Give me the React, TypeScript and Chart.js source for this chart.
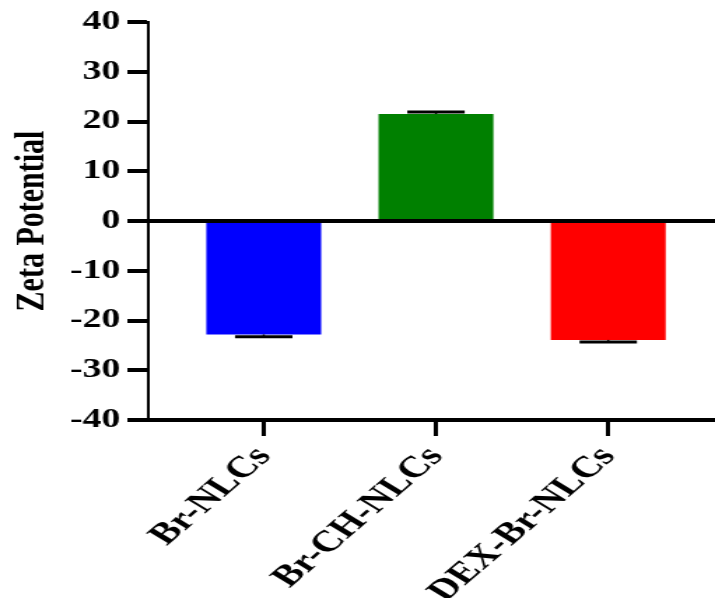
import React, { useEffect, useRef } from "react";
import { Chart, registerables } from "chart.js";

Chart.register(...registerables);

const categories = ["Br-NLCs", "Br-CH-NLCs", "DEX-Br-NLCs"];
const zetaMeans = [-22.8, 21.5, -23.9];
const zetaErrors = [0.45, 0.4, 0.4];
const barColors = ["#0000FF", "#008000", "#FF0000"];
const yTickValues = [-40, -30, -20, -10, 0, 10, 20, 30, 40];
const yTitle = "Zeta Potential";

const FONT = "'Liberation Serif', 'Times New Roman', serif";
const RENDER_W = 511; // drawn width; stretched to 715 on screen
const VIEW_W = 715;
const VIEW_H = 598;

const errorBarPlugin = {
  id: "errorBars",
  afterDatasetsDraw(chart: any) {
    const meta = chart.getDatasetMeta(0);
    const yScale = chart.scales.y;
    const ctx = chart.ctx;
    ctx.save();
    ctx.strokeStyle = "#000";
    meta.data.forEach((bar: any, i: number) => {
      const m = zetaMeans[i];
      const e = zetaErrors[i];
      const end = m >= 0 ? m + e : m - e;
      const y0 = yScale.getPixelForValue(m);
      const y1 = yScale.getPixelForValue(end);
      const half = bar.width / 4;
      ctx.lineWidth = 1.5;
      ctx.beginPath();
      ctx.moveTo(bar.x, y0);
      ctx.lineTo(bar.x, y1);
      ctx.stroke();
      ctx.lineWidth = 3;
      ctx.beginPath();
      ctx.moveTo(bar.x - half, y1);
      ctx.lineTo(bar.x + half, y1);
      ctx.stroke();
    });
    ctx.restore();
  },
};

export default function App() {
  const ref = useRef<HTMLCanvasElement>(null);

  useEffect(() => {
    if (!ref.current) return;
    const chart = new Chart(ref.current, {
      type: "bar",
      data: {
        datasets: [
          {
            data: categories.map((_, i) => ({ x: i, y: zetaMeans[i] })),
            backgroundColor: barColors,
            borderWidth: 0,
            categoryPercentage: 1,
            barPercentage: 0.667,
          },
        ],
      },
      options: {
        responsive: false,
        animation: false,
        devicePixelRatio: 1,
        layout: { padding: { top: 22, right: 0, bottom: 0, left: 0 } },
        plugins: { legend: { display: false }, tooltip: { enabled: false } },
        scales: {
          x: {
            type: "linear",
            offset: false,
            min: -0.67,
            max: 2.62,
            afterBuildTicks: (s: any) => {
              s.ticks = categories.map((_, i) => ({ value: i }));
            },
            afterFit: (s: any) => {
              s.height = 178;
            },
            ticks: {
              autoSkip: false,
              minRotation: 50,
              maxRotation: 50,
              color: "#000",
              padding: 4,
              font: { family: FONT, size: 30, weight: "bold" },
              callback: (_v: any, i: number) => categories[i],
            },
            grid: {
              offset: false,
              drawOnChartArea: false,
              drawTicks: true,
              tickLength: 16,
              tickWidth: 3,
              tickColor: "#000",
            },
            border: { display: true, color: "#000", width: 4 },
          },
          y: {
            min: -40,
            max: 40,
            z: 1,
            afterBuildTicks: (s: any) => {
              s.ticks = yTickValues.map((v) => ({ value: v }));
            },
            afterFit: (s: any) => {
              s.width = 106;
            },
            ticks: {
              color: "#000",
              padding: 5,
              font: { family: FONT, size: 27, weight: "bold" },
            },
            grid: {
              drawOnChartArea: true,
              color: (c: any) => (c.tick && c.tick.value === 0 ? "#000" : "rgba(0,0,0,0)"),
              lineWidth: (c: any) => (c.tick && c.tick.value === 0 ? 4 : 0),
              tickColor: "#000",
              tickWidth: 4,
              tickLength: 15,
            },
            border: { display: true, color: "#000", width: 2 },
            title: {
              display: true,
              text: yTitle,
              color: "#000",
              padding: { top: 5, bottom: 0 },
              font: { family: FONT, size: 30, weight: "bold" },
            },
          },
        },
      },
      plugins: [errorBarPlugin],
    } as any);
    return () => chart.destroy();
  }, []);

  return (
    <div style={{ position: "absolute", left: 0, top: 0, width: VIEW_W, height: VIEW_H, background: "#fff" }}>
      <canvas
        ref={ref}
        width={RENDER_W}
        height={VIEW_H}
        style={{ width: `${VIEW_W}px`, height: `${VIEW_H}px`, display: "block" }}
      />
    </div>
  );
}
